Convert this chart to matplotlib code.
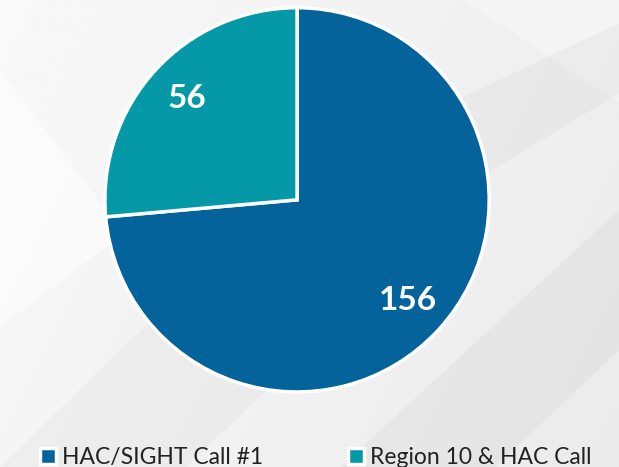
import matplotlib.pyplot as plt
import numpy as np
from matplotlib.patches import Polygon

# Call participation counts.
labels = ["HAC/SIGHT Call #1", "Region 10 & HAC Call"]
values = [156, 56]
colors = ["#05639c", "#0598a6"]

plt.rcParams["font.family"] = ["Lato", "DejaVu Sans"]

fig = plt.figure(figsize=(6.19, 4.67), dpi=100)

# Soft grey backdrop with a few faint diagonal panels.
bg = fig.add_axes([0, 0, 1, 1], zorder=-1)
xx, yy = np.meshgrid(np.linspace(0, 1, 200), np.linspace(0, 1, 200))
shade = 0.96 - 0.04 * xx + 0.015 * yy
bg.imshow(shade, cmap="gray", vmin=0, vmax=1, extent=(0, 1, 0, 1), origin="lower", aspect="auto")
for pts, col, a in [
    ([(0, 0.85), (0.2, 0.5), (0, 0.3)], "white", 0.5),
    ([(0.55, 0), (1, 0.55), (1, 0.25), (0.8, 0)], "#c8c8c8", 0.2),
    ([(0.75, 1), (1, 0.78), (1, 1)], "white", 0.35),
    ([(0.0, 0.0), (0.35, 0.45), (0.5, 0.25), (0.3, 0)], "#d0d0d0", 0.18),
    ([(0.6, 0.7), (1, 0.95), (1, 0.8), (0.75, 0.6)], "#cfcfcf", 0.2),
]:
    bg.add_patch(Polygon(pts, closed=True, facecolor=col, edgecolor="none", alpha=a))
bg.set_xlim(0, 1)
bg.set_ylim(0, 1)
bg.axis("off")

ax = fig.add_axes([0.1664, 0.1566, 0.627, 0.831])
total = sum(values)
wedges, _, autotexts = ax.pie(
    values,
    colors=colors,
    startangle=90,
    counterclock=False,
    autopct=lambda p: f"{round(p * total / 100):d}",
    pctdistance=0.78,
    wedgeprops={"edgecolor": "white", "linewidth": 2.5},
    textprops={"color": "white", "fontsize": 24, "fontweight": "bold"},
)
ax.set_xlim(-1.01, 1.01)
ax.set_ylim(-1.01, 1.01)
ax.set_aspect("auto")

fig.legend(
    wedges,
    labels,
    loc="lower left",
    bbox_to_anchor=(0.031, -0.047),
    ncol=2,
    frameon=False,
    fontsize=16.5,
    handlelength=0.72,
    handleheight=0.72,
    handletextpad=0.25,
    columnspacing=3.7,
    labelcolor="#222222",
)

fig.savefig("out.png", dpi=100)
